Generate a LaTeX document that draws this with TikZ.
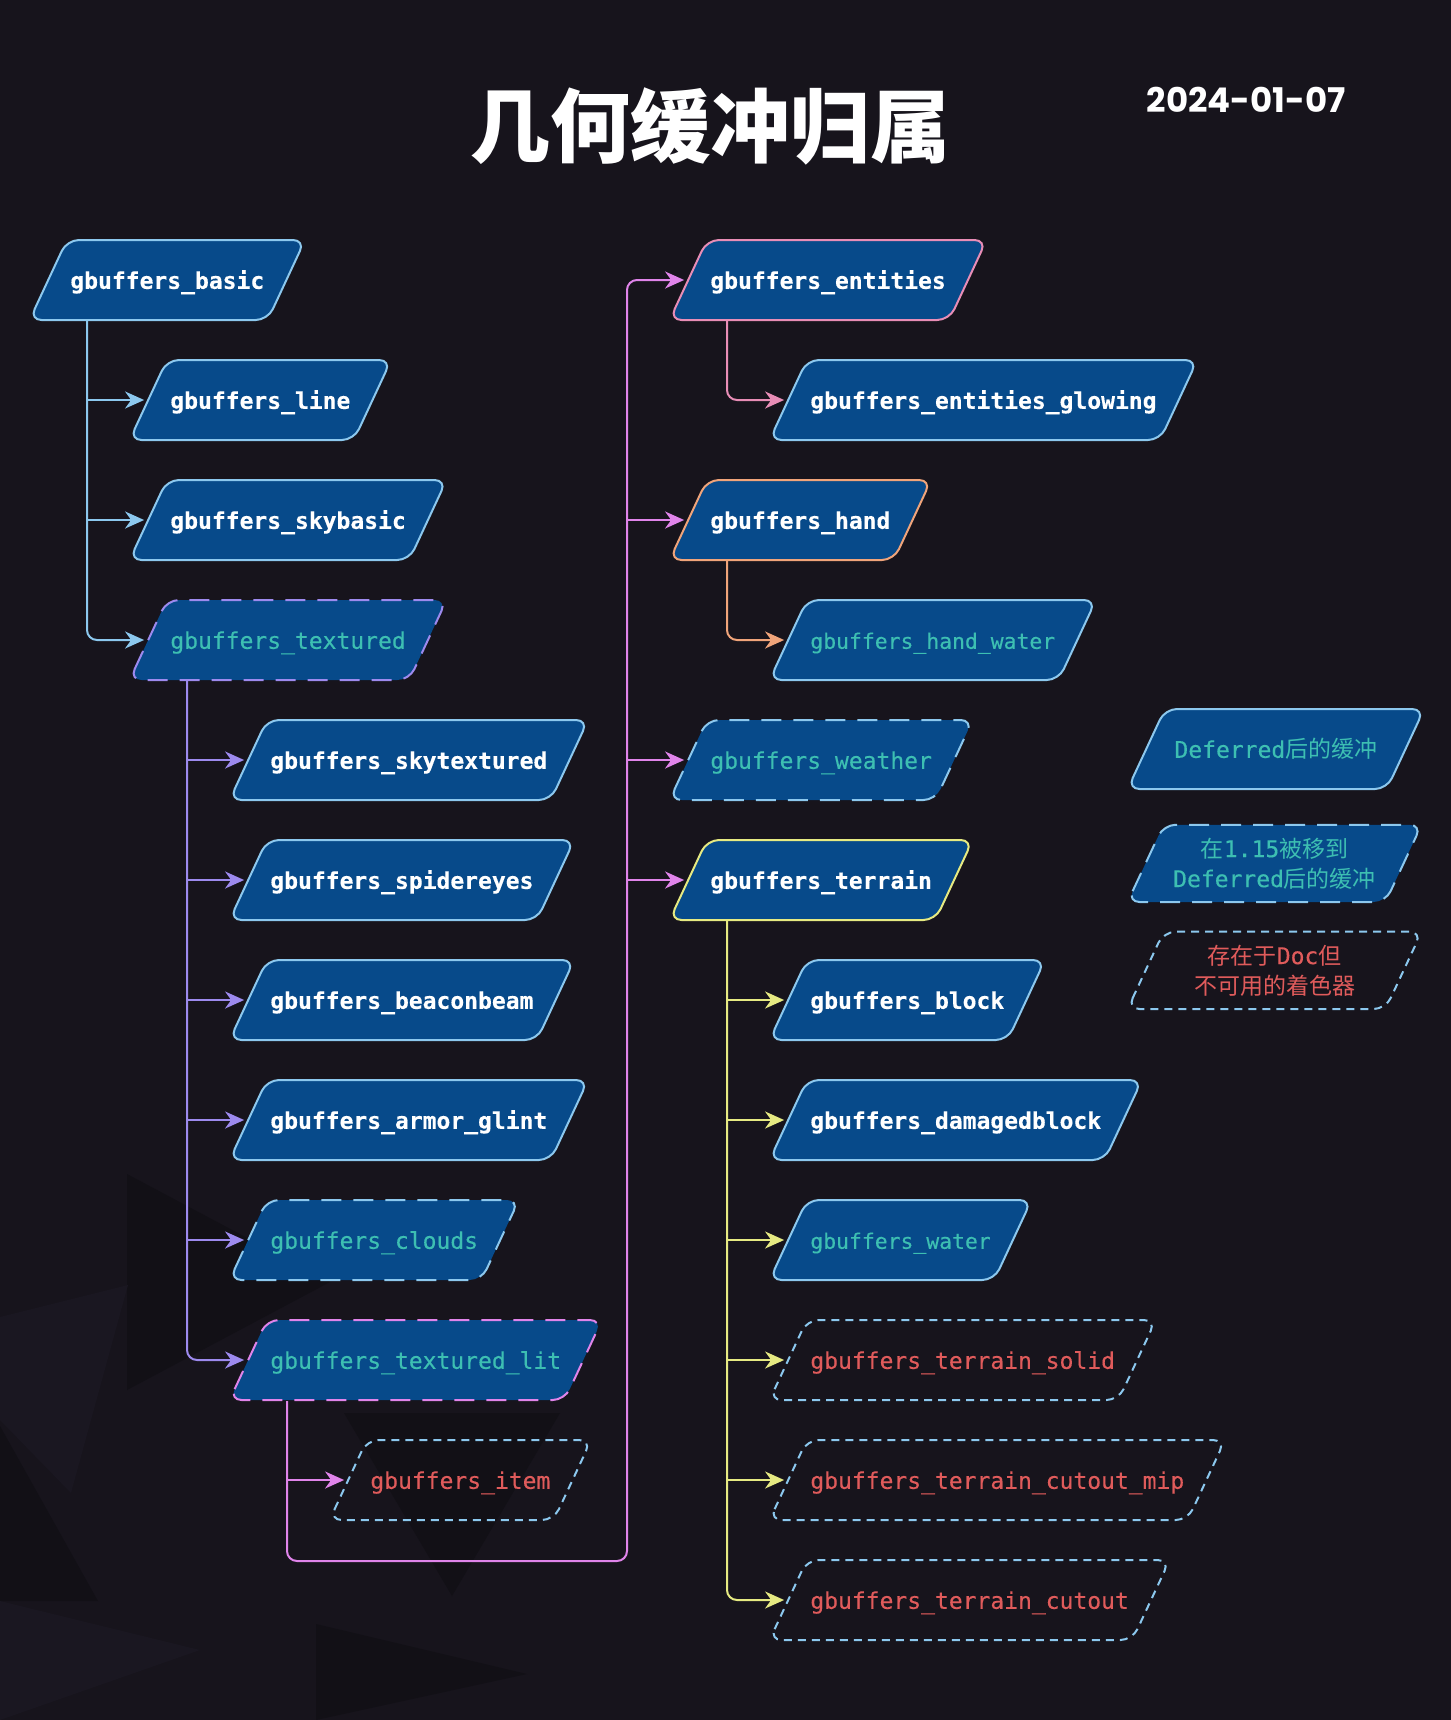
\documentclass[tikz,border=0pt]{standalone}
\usepackage{fontspec}
\setmonofont{DejaVu Sans Mono}[FakeBold=0.3]
\newfontfamily\cjk{Noto Sans CJK SC}
\newfontfamily\datefont{Poppins}
\usetikzlibrary{shapes.geometric,arrows.meta,calc}
\definecolor{bgdark}{HTML}{17141C}
\definecolor{shadelow}{HTML}{121016}
\definecolor{shadehigh}{HTML}{1A1721}
\definecolor{nodeblue}{HTML}{074A8A}
\definecolor{skyline}{HTML}{8CC8EE}
\definecolor{violetline}{HTML}{9D8AEE}
\definecolor{orchidline}{HTML}{E084EA}
\definecolor{roseline}{HTML}{E88DB6}
\definecolor{peachline}{HTML}{F0A47A}
\definecolor{lemonline}{HTML}{E6EA82}
\definecolor{tealtext}{HTML}{3DBFB2}
\definecolor{redtext}{HTML}{E05B5B}
\newcommand{\bufbold}{\ttfamily\bfseries\fontsize{11.5pt}{15pt}\selectfont}
\newcommand{\bufreg}{\ttfamily\fontsize{11.5pt}{15pt}\selectfont}
\begin{document}
\begin{tikzpicture}[x=0.5pt,y=-0.5pt,
  buf/.style={trapezium, trapezium left angle=65, trapezium right angle=115,
    rounded corners=6pt, line width=1pt, inner xsep=1.75pt, inner ysep=14.75pt,
    text height=9.65pt, text depth=0.85pt, anchor=bottom left corner},
  live/.style={buf, fill=nodeblue, draw=#1, text=white, font=\bufbold},
  moved/.style={buf, fill=nodeblue, draw=#1, text=tealtext, font=\bufreg},
  missing/.style={buf, draw=skyline, dash pattern=on 4pt off 3pt, text=redtext, font=\bufreg},
  longdash/.style={dash pattern=on 10pt off 6pt},
  twoline/.style={text height={}, text depth={}, inner ysep=6.5pt},
  link/.style={line width=1pt, shorten >=1.5pt, -{Stealth[length=9.5pt,width=8.5pt,inset=3pt]}}]
\fill[bgdark] (0,0) rectangle (1451,1720);
\useasboundingbox (0,0) rectangle (1451,1720);
%----------------background----------
\fill[shadelow] (127,1174)--(127,1390)--(330,1282)--cycle;
\fill[shadehigh] (0,1317)--(128,1285)--(71,1493)--(0,1420)--cycle;
\fill[shadelow] (344,1413)--(560,1413)--(452,1596)--cycle;
\fill[shadelow] (0,1426)--(98,1601)--(0,1601)--cycle;
\fill[shadelow] (316,1624)--(527,1674)--(316,1720)--cycle;
\fill[shadehigh] (0,1601)--(200,1650)--(0,1720)--cycle;
%----------------title----------
\node[text=white] (title) at (710,126) {\cjk\bfseries\fontsize{40pt}{40pt}\selectfont 几何缓冲归属};
\node[text=white] (date) at (1246,100) {\datefont\bfseries\fontsize{17pt}{17pt}\selectfont 2024-01-07};
%----------------left column----------
\node[live=skyline] (basic) at (28,321) {gbuffers\_basic};
\node[live=skyline] (line) at (128,441) {gbuffers\_line};
\node[live=skyline] (skybasic) at (128,561) {gbuffers\_skybasic};
\node[moved=violetline, longdash] (textured) at (128,681) {gbuffers\_textured};
\node[live=skyline] (skytextured) at (228,801) {gbuffers\_skytextured};
\node[live=skyline] (spidereyes) at (228,921) {gbuffers\_spidereyes};
\node[live=skyline] (beaconbeam) at (228,1041) {gbuffers\_beaconbeam};
\node[live=skyline] (armorglint) at (228,1161) {gbuffers\_armor\_glint};
\node[moved=skyline, longdash] (clouds) at (228,1281) {gbuffers\_clouds};
\node[moved=orchidline, longdash] (texturedlit) at (228,1401) {gbuffers\_textured\_lit};
\node[missing] (item) at (328,1521) {gbuffers\_item};
%----------------right column----------
\node[live=roseline] (entities) at (668,321) {gbuffers\_entities};
\node[live=skyline] (glowing) at (768,441) {gbuffers\_entities\_glowing};
\node[live=peachline] (hand) at (668,561) {gbuffers\_hand};
\node[moved=skyline, font=\ttfamily\fontsize{10.7pt}{14pt}\selectfont] (handwater) at (768,681) {gbuffers\_hand\_water};
\node[moved=skyline, longdash] (weather) at (668,801) {gbuffers\_weather};
\node[live=lemonline] (terrain) at (668,921) {gbuffers\_terrain};
\node[live=skyline] (block) at (768,1041) {gbuffers\_block};
\node[live=skyline] (damagedblock) at (768,1161) {gbuffers\_damagedblock};
\node[moved=skyline, font=\ttfamily\fontsize{10.7pt}{14pt}\selectfont] (water) at (768,1281) {gbuffers\_water};
\node[missing] (solid) at (768,1401) {gbuffers\_terrain\_solid};
\node[missing] (cutoutmip) at (768,1521) {gbuffers\_terrain\_cutout\_mip};
\node[missing] (cutout) at (768,1641) {gbuffers\_terrain\_cutout};
%----------------legend----------
\node[moved=skyline, text width=107.5pt, align=center] (legdeferred) at (1126,790) {Deferred{\cjk 后的缓冲}};
\node[moved=skyline, longdash, twoline, text width=107.5pt, align=center] (legmoved) at (1126,903) {{\cjk 在}1.15{\cjk 被移到}\\Deferred{\cjk 后的缓冲}};
\node[missing, twoline, text width=107.5pt, align=center] (legmissing) at (1126,1010) {{\cjk 存在于}Doc{\cjk 但}\\{\cjk 不可用的着色器}};
%----------------connectors----------
\coordinate (basicfoot) at ($(basic.bottom left corner)+(59,0)$);
\draw[link, skyline] (basicfoot) |- (line.left side);
\draw[link, skyline] (basicfoot) |- (skybasic.left side);
\draw[link, skyline, rounded corners=5pt] (basicfoot) |- (textured.left side);
\coordinate (texfoot) at ($(textured.bottom left corner)+(59,0)$);
\draw[link, violetline] (texfoot) |- (skytextured.left side);
\draw[link, violetline] (texfoot) |- (spidereyes.left side);
\draw[link, violetline] (texfoot) |- (beaconbeam.left side);
\draw[link, violetline] (texfoot) |- (armorglint.left side);
\draw[link, violetline] (texfoot) |- (clouds.left side);
\draw[link, violetline, rounded corners=5pt] (texfoot) |- (texturedlit.left side);
\coordinate (litfoot) at ($(texturedlit.bottom left corner)+(59,0)$);
\coordinate (loopcorner) at (627,1561);
\draw[link, orchidline] (litfoot) |- (item.left side);
\draw[link, orchidline, rounded corners=5pt] (litfoot) |- (loopcorner) |- (entities.left side);
\draw[link, orchidline] (loopcorner |- hand.left side) -- (hand.left side);
\draw[link, orchidline] (loopcorner |- weather.left side) -- (weather.left side);
\draw[link, orchidline] (loopcorner |- terrain.left side) -- (terrain.left side);
\coordinate (entfoot) at ($(entities.bottom left corner)+(59,0)$);
\draw[link, roseline, rounded corners=5pt] (entfoot) |- (glowing.left side);
\coordinate (handfoot) at ($(hand.bottom left corner)+(59,0)$);
\draw[link, peachline, rounded corners=5pt] (handfoot) |- (handwater.left side);
\coordinate (terrfoot) at ($(terrain.bottom left corner)+(59,0)$);
\draw[link, lemonline] (terrfoot) |- (block.left side);
\draw[link, lemonline] (terrfoot) |- (damagedblock.left side);
\draw[link, lemonline] (terrfoot) |- (water.left side);
\draw[link, lemonline] (terrfoot) |- (solid.left side);
\draw[link, lemonline] (terrfoot) |- (cutoutmip.left side);
\draw[link, lemonline, rounded corners=5pt] (terrfoot) |- (cutout.left side);
\end{tikzpicture}
\end{document}
